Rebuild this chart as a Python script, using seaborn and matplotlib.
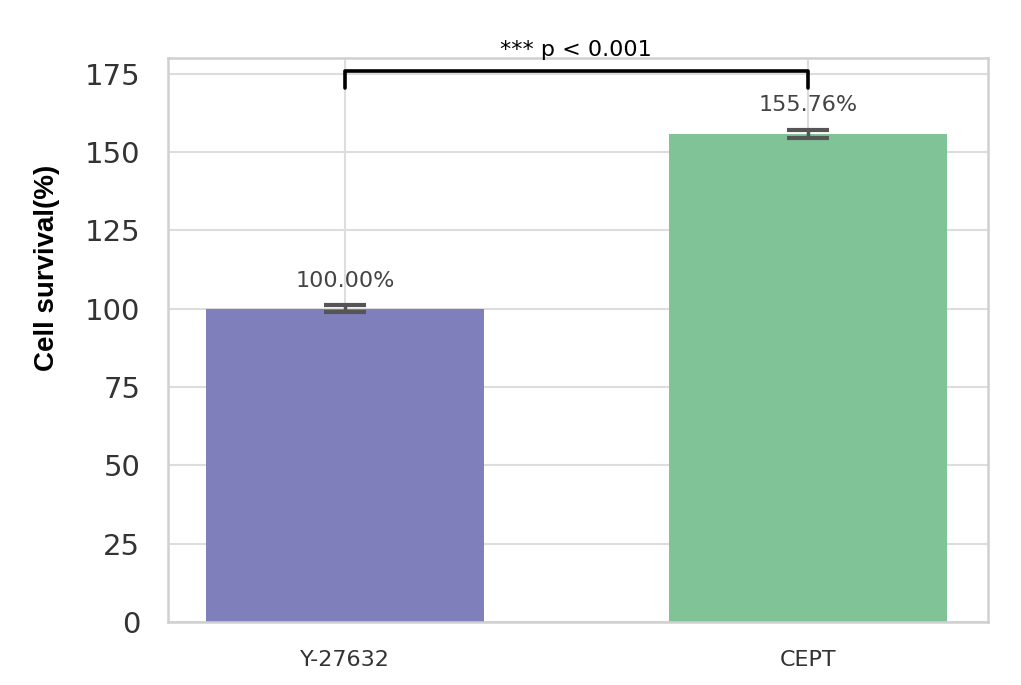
import numpy as np
import pandas as pd
import matplotlib
matplotlib.use("Agg")
import matplotlib.pyplot as plt
import seaborn as sns

# data
groups = ["Y-27632", "CEPT"]
survival = [100.00, 155.76]
survival_sd = [1.1, 1.4]
bar_colors = ["#7f7fbb", "#7fc396"]
sig_text = "*** p < 0.001"

df = pd.DataFrame({"group": groups, "survival": survival})

sns.set_theme(style="whitegrid")
plt.rcParams["font.family"] = ["DejaVu Sans"]

fig = plt.figure(figsize=(10.21, 6.85), dpi=100)
ax = fig.add_axes([0.1645, 0.092, 0.8032, 0.8233])

sns.barplot(data=df, x="group", y="survival", hue="group", palette=bar_colors,
            width=0.6, errorbar=None, legend=False, saturation=1, linewidth=0, ax=ax)
ax.errorbar(range(len(groups)), survival, yerr=survival_sd, fmt="none",
            ecolor="#555555", elinewidth=2.5, capsize=15, capthick=3, zorder=5)

# value labels
for i, (m, s) in enumerate(zip(survival, survival_sd)):
    ax.text(i, m + s + 4.5, f"{m:.2f}%", ha="center", va="bottom",
            fontsize=16, color="#444444")

# significance bracket
y_br, h_br = 176, 5.5
ax.plot([0, 0, 1, 1], [y_br - h_br, y_br, y_br, y_br - h_br],
        color="black", lw=2.6, clip_on=False, zorder=6)
ax.text(0.5, y_br + 3.5, sig_text, ha="center", va="bottom",
        fontsize=16, color="black")

ax.set_ylim(0, 180)
ax.set_xlim(-0.382, 1.389)
ax.set_yticks([0, 25, 50, 75, 100, 125, 150, 175])
ax.tick_params(axis="y", labelsize=21, labelcolor="#333333", pad=14)
ax.tick_params(axis="x", labelsize=16, labelcolor="#333333", pad=14)
ax.set_xlabel("")
ax.set_ylabel("Cell survival(%)", fontsize=20, fontweight="bold",
              family=["Liberation Sans", "DejaVu Sans"], color="black")
ax.yaxis.set_label_coords(-0.132, 0.628)
ax.grid(True, color="#dddddd", linewidth=1.5)
ax.set_axisbelow(True)
for sp in ax.spines.values():
    sp.set_color("#d0d0d0")
    sp.set_linewidth(1.8)

fig.savefig("out.png", dpi=100)
